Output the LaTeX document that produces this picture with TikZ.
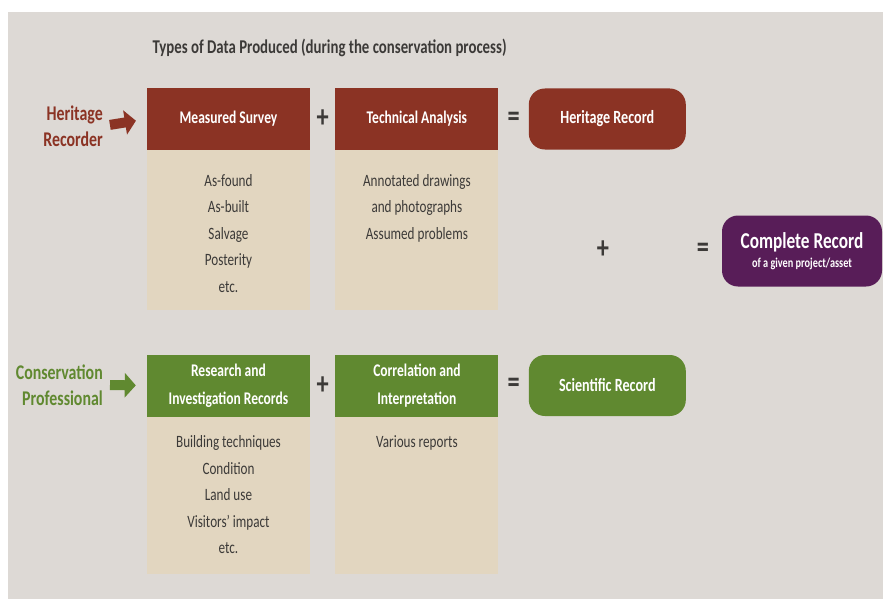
\documentclass[tikz,border=0pt]{standalone}
\usepackage{fontspec}
\setmainfont{Carlito}[FakeStretch=0.76]
\usetikzlibrary{positioning, arrows.meta, calc}

\definecolor{bggray}{RGB}{221,217,213}
\definecolor{hred}{RGB}{139,51,36}
\definecolor{hgreen}{RGB}{96,137,48}
\definecolor{cpurple}{RGB}{88,29,88}
\definecolor{tan}{RGB}{226,214,192}
\definecolor{ink}{RGB}{60,58,56}

\begin{document}
\begin{tikzpicture}[
    x=1pt, y=-1pt,
    >=Stealth,
    head/.style={
        rectangle,
        minimum width=163pt,
        minimum height=62pt,
        inner sep=0pt,
        align=center,
        text=white,
        font=\fontsize{17.8}{28}\selectfont\bfseries
    },
    body/.style={
        rectangle,
        fill=tan,
        minimum width=163pt,
        inner sep=0pt
    },
    list/.style={
        inner sep=0pt,
        align=center,
        text=ink,
        font=\fontsize{17.3}{26.5}\selectfont
    },
    rec/.style={
        rectangle,
        rounded corners=16pt,
        minimum width=157pt,
        minimum height=61pt,
        text=white,
        align=center,
        font=\fontsize{18.6}{20}\selectfont\bfseries
    },
    who/.style={
        inner sep=0pt,
        align=right,
        font=\fontsize{20.9}{26}\selectfont\bfseries
    },
    op/.style={
        inner sep=0pt,
        text=ink,
        font=\fontsize{32}{32}\selectfont\bfseries
    },
    bigarrow/.style={
        -{Triangle[length=11pt, width=24pt]},
        line width=10pt,
        shorten <=7pt,
        shorten >=11pt
    }
]

% Frame
\useasboundingbox (0,0) rectangle (883,599);
\fill[bggray] (8,12) rectangle (883,599);

% Title
\node[anchor=west, text=ink, font=\fontsize{19.5}{22}\selectfont\bfseries] (title) at (149,48)
    {Types of Data Produced (during the conservation process)};

% Heritage row
\node[head, fill=hred] (ms) at (228.5,119) {Measured Survey};
\node[head, fill=hred, right=25pt of ms] (ta) {Technical Analysis};
\node[body, below=0pt of ms, minimum height=160pt] (msbody) {};
\node[body, below=0pt of ta, minimum height=160pt] (tabody) {};
\node[list, below=24pt of ms] (mslist) {As-found\\As-built\\Salvage\\Posterity\\etc.};
\node[list, below=24pt of ta] (talist) {Annotated drawings\\and photographs\\Assumed problems};
\node[rec, fill=hred, right=30pt of ta] (hrec) {Heritage Record};

\node[op] (plus1) at ($(ms.east)!.5!(ta.west)$) {+};
\node[op] (eq1) at ($(ta.east)!.5!(hrec.west)$) {=};

\node[who, text=hred, anchor=east] (hr) at (103,126) {Heritage\\Recorder};
\draw[bigarrow, hred] (hr.east) -- (ms.west);

% Conservation row
\node[head, fill=hgreen] (ri) at (228.5,385.5) {Research and\\Investigation Records};
\node[head, fill=hgreen, right=25pt of ri] (ci) {Correlation and\\Interpretation};
\node[body, below=0pt of ri, minimum height=157pt] (ribody) {};
\node[body, below=0pt of ci, minimum height=157pt] (cibody) {};
\node[list, below=19pt of ri] (rilist) {Building techniques\\Condition\\Land use\\Visitors' impact\\etc.};
\node[list, below=19pt of ci] (cilist) {Various reports};
\node[rec, fill=hgreen, right=30pt of ci] (srec) {Scientific Record};

\node[op] (plus2) at ($(ri.east)!.5!(ci.west)$) {+};
\node[op] (eq2) at ($(ci.east)!.5!(srec.west)$) {=};

\node[who, text=hgreen, anchor=east] (cp) at (103,385) {Conservation\\Professional};
\draw[bigarrow, hgreen] (cp.east) -- (ri.west);

% Complete record
\node[rec, fill=cpurple, minimum width=160pt, minimum height=71pt] (crec) at (802,251)
    {{\fontsize{22.7}{24}\selectfont Complete Record}\\[-1pt]{\fontsize{13.5}{14}\selectfont of a given project/asset}};
\node[op] (plus3) at (603,250) {+};
\node[op] (eq3) at (703,250) {=};

\end{tikzpicture}
\end{document}
